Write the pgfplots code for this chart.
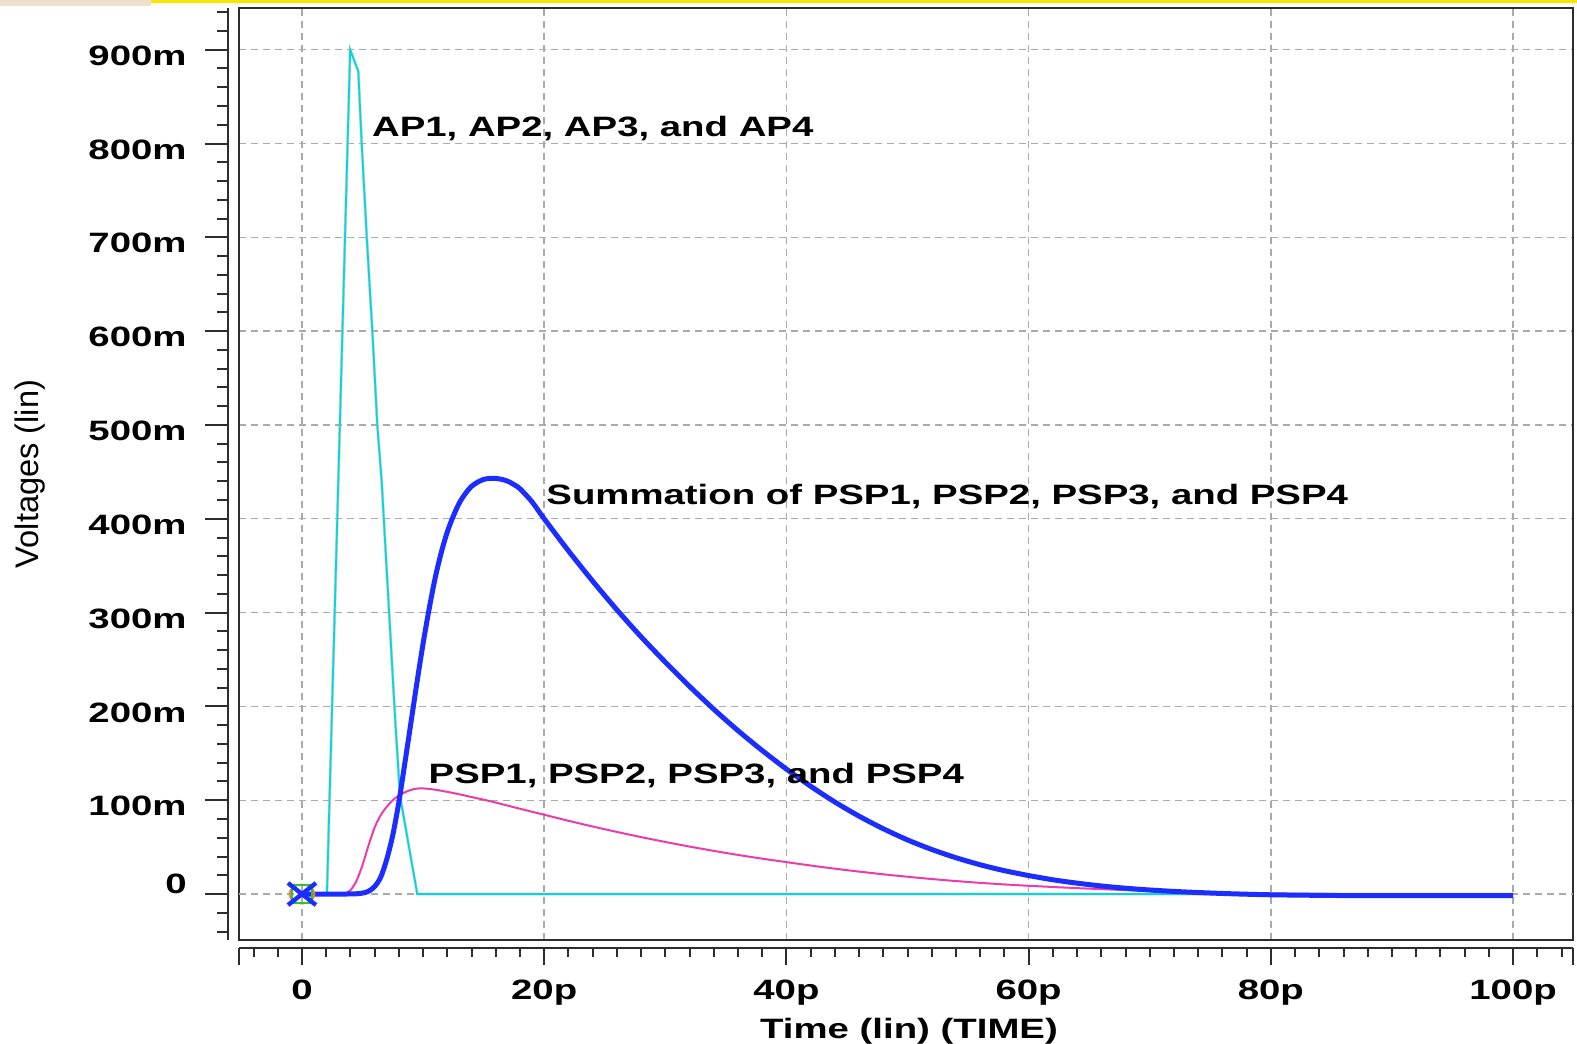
\documentclass[border=0pt]{standalone}
\usepackage{pgfplots}
\pgfplotsset{compat=1.18}
\usepackage{fontspec}
\setmainfont{Liberation Sans}
\newfontfamily\widefont{Liberation Sans}[FakeStretch=1.37]
\newcommand\lblfont{\widefont\bfseries\fontsize{14pt}{16pt}\selectfont}

\definecolor{framegray}{RGB}{45,45,45}
\definecolor{gridgray}{RGB}{170,170,170}
\definecolor{apcyan}{RGB}{0,215,232}
\definecolor{aptan}{RGB}{200,190,150}
\definecolor{psppink}{RGB}{235,60,170}
\definecolor{sumblue}{RGB}{28,45,255}
\definecolor{bandyellow}{RGB}{250,228,0}
\definecolor{bandbeige}{RGB}{238,224,204}
\definecolor{curorange}{RGB}{255,120,60}
\definecolor{curgreen}{RGB}{40,200,40}

\pgfplotstableread{
t v
0 0
2.06 0
3.98 900
4.65 877
4.93 800
5.35 700
5.81 600
6.22 500
6.58 440
7.70 185
8.09 105
9.52 0
100 0
}\aptable

\pgfplotstableread{
t v
0 0
1 0
2 0
2.5 0
3 0
3.5 0.5
4 4
4.5 14
5 31
5.5 52
6 71
6.5 84
7 93
7.5 100
8 105
8.5 108.5
9 111
9.5 112.4
10 112.6
11 111.2
12 108.9
13 106.3
14 103.4
15 100.6
16 97.5
18 90.9
20 84.5
22 78.1
24 72.0
26 66.2
28 60.7
30 55.5
32 50.6
34 46.0
36 41.7
38 37.7
40 34.0
42 30.4
44 27.04
46 23.92
48 21.04
50 18.4
52 16.0
54 13.84
56 11.92
58 10.24
60 8.8
62 7.5
64 6.3
66 5.2
68 4.2
70 3.3
72 2.5
74 1.8
76 1.2
78 0.7
80 0.35
84 0.05
90 0
100 0
}\psptable

\pgfplotstableread{
t v
0 0
1 0
2 0
3 0
3.5 0
4 0.1
4.5 0.3
5 1
5.5 3
6 8
6.5 18
7 37
7.5 63
8 98
8.5 140
9 183
9.5 226
10 267
10.5 304
11 337
11.5 364
12 386
12.5 403
13 417
13.5 427
14 434.5
14.5 439
15 442
15.5 443
16 443
16.5 442
17 440
17.5 436.5
18 432
19 418
20 400
22 365.9
24 333.6
26 303
28 274.2
30 247.2
32 221.4
34 197
36 174.2
38 153
40 133.2
42 114.9
44 98.1
46 83
48 69.6
50 57.7
52 47.5
54 38.7
56 31.2
58 24.9
60 19.7
62 15.2
64 11.6
66 8.6
68 6.2
70 4.3
72 2.8
74 1.6
76 0.6
78 -0.2
80 -0.8
84 -1.4
88 -1.7
100 -1.8
}\sumtable

\begin{document}
\begin{tikzpicture}
\useasboundingbox (0,0) rectangle (788.5pt,521.5pt);
% window band along the top edge
\fill[bandbeige] (0,518.7pt) rectangle (75.5pt,521.5pt);
\fill[bandyellow] (75.5pt,520.1pt) rectangle (788.5pt,521.5pt);

% main plotting frame with the dashed grid
\begin{axis}[
  at={(119.5pt,51.5pt)}, anchor=south west,
  width=667pt, height=466pt, scale only axis,
  xmin=-5.2, xmax=104.95, ymin=-49, ymax=944.5,
  clip=false,
  axis line style={draw=framegray, line width=1pt},
  xtick={0,20,40,60,80,100},
  xticklabels={0,20p,40p,60p,80p,100p},
  ytick={100,200,300,400,500,600,700,800,900},
  yticklabels={100m,200m,300m,400m,500m,600m,700m,800m,900m},
  extra y ticks={0}, extra y tick labels={0},
  extra y tick style={grid=major, yticklabel style={yshift=8pt}},
  major tick length=0pt,
  tick style={draw=none},
  grid=major,
  major grid style={draw=gridgray, line width=0.7pt, dash pattern=on 3.5pt off 2.5pt},
  tick label style={font=\lblfont, text=black},
  xticklabel style={anchor=north, inner sep=0pt, yshift=-20pt},
  yticklabel style={anchor=east, inner sep=0pt, xshift=-26pt, yshift=-3pt},
]
% AP1..AP4 (overlapping action potentials)
\addplot[aptan, line width=1.5pt, opacity=0.6] table[x=t, y=v] {\aptable};
\addplot[apcyan, line width=0.9pt] table[x=t, y=v] {\aptable};
% PSP1..PSP4
\addplot[psppink, line width=1pt, smooth, tension=0.5] table[x=t, y=v] {\psptable};
% summation of the PSPs
\addplot[sumblue, line width=2.5pt, smooth, tension=0.5] table[x=t, y=v] {\sumtable};
% cursor markers at the origin
\addplot[only marks, mark=o, mark size=4.8pt, mark options={draw=curorange, line width=0.9pt, xscale=1.3}] coordinates {(0,0)};
\addplot[only marks, mark=square, mark size=4.5pt, mark options={draw=curgreen, line width=0.9pt, xscale=1.1}] coordinates {(0,0)};
\addplot[only marks, mark=x, mark size=7.8pt, mark options={draw=sumblue, line width=2.2pt, xscale=1.27}] coordinates {(0,0)};

\node[anchor=base west, inner sep=0pt, font=\lblfont] at (axis cs:5.76,807.5) {AP1, AP2, AP3, and AP4};
\node[anchor=base west, inner sep=0pt, font=\lblfont] at (axis cs:20.15,414.8) {Summation of PSP1, PSP2, PSP3, and PSP4};
\node[anchor=base west, inner sep=0pt, font=\lblfont] at (axis cs:10.43,118) {PSP1, PSP2, PSP3, and PSP4};
\end{axis}

% left ruler
\begin{axis}[
  at={(114pt,51.5pt)}, anchor=south west,
  width=667pt, height=466pt, scale only axis,
  xmin=0, xmax=1, ymin=-49, ymax=944.5,
  hide x axis,
  axis y line*=left,
  y axis line style={-, draw=framegray, line width=1pt},
  ytick={0,100,200,300,400,500,600,700,800,900},
  minor ytick={-40,-20,...,940},
  yticklabels={},
  tick align=outside,
  major tick length=11.5pt, minor tick length=5.5pt,
  major tick style={draw=framegray, line width=1pt},
  minor tick style={draw=framegray, line width=1pt},
]
\end{axis}

% bottom ruler
\begin{axis}[
  at={(119.5pt,47.5pt)}, anchor=south west,
  width=667pt, height=10pt, scale only axis,
  xmin=-5.2, xmax=104.95, ymin=0, ymax=1,
  hide y axis,
  axis x line*=bottom,
  x axis line style={-, draw=framegray, line width=1pt},
  xtick={0,20,40,60,80,100},
  minor xtick={-4,-2,...,104},
  extra x ticks={-5.2,104.95}, extra x tick labels={},
  xticklabels={},
  tick align=outside,
  major tick length=8.5pt, minor tick length=4.5pt,
  major tick style={draw=framegray, line width=1pt},
  minor tick style={draw=framegray, line width=1pt},
]
\end{axis}

\node[anchor=base, inner sep=0pt, font=\lblfont] at (454.5pt,2.5pt) {Time (lin) (TIME)};
\node[rotate=90, inner sep=0pt, font=\fontsize{16.3pt}{18pt}\selectfont] at (15.25pt,284.5pt) {Voltages (lin)};
\end{tikzpicture}
\end{document}
